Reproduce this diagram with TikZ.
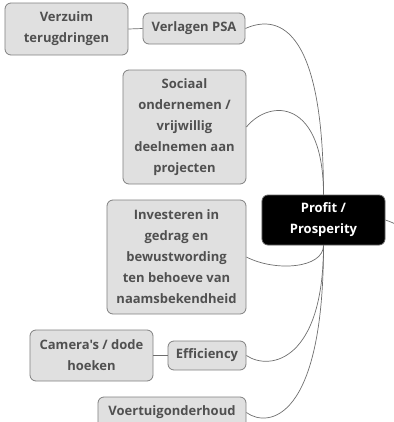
\documentclass[tikz,border=0pt]{standalone}
\usepackage{fontspec}
\newfontfamily\mapfont{Open Sans}
\usepackage{tikz}
\usetikzlibrary{calc, positioning}

\definecolor{boxfill}{HTML}{E0E0E0}
\definecolor{boxline}{HTML}{808080}
\definecolor{boxtext}{HTML}{505050}
\definecolor{edgecol}{HTML}{6E6E6E}

\tikzset{
  topic/.style={draw=boxline, fill=boxfill, text=boxtext, rounded corners=6bp,
    line width=.8bp, align=center, inner sep=0pt,
    font=\mapfont\bfseries\fontsize{13bp}{21bp}\selectfont},
  central/.style={topic, draw=black!60, fill=black, text=white},
  branch/.style={draw=edgecol, line width=.7bp}
}

\begin{document}
\begin{tikzpicture}[x=1bp,y=-1bp]
\useasboundingbox (0,0) rectangle (394,422);
\clip (0,0) rectangle (394,422);
  % Node: central
  \node[central, minimum width=123bp, minimum height=50bp] (profit) at (323.5,220) {Profit /\\Prosperity};
  % Node: left side
  \node[topic, minimum width=102bp, minimum height=31bp] (psa) at (194,28.5) {Verlagen PSA};
  \node[topic, minimum width=123bp, minimum height=52bp] (verzuim) at (66.5,29) {Verzuim\\terugdringen};
  \node[topic, minimum width=123bp, minimum height=114bp] (sociaal) at (184.5,127) {Sociaal\\ondernemen /\\vrijwillig\\deelnemen aan\\projecten};
  \node[topic, minimum width=139bp, minimum height=114bp] (invest) at (176.5,257) {Investeren in\\gedrag en\\bewustwording\\ten behoeve van\\naamsbekendheid};
  \node[topic, minimum width=78bp, minimum height=29bp] (effic) at (207,355.5) {Efficiency};
  \node[topic, minimum width=123bp, minimum height=51bp] (camera) at (91.5,355.5) {Camera's / dode\\hoeken};
  \node[topic, minimum width=148bp, minimum height=31bp] (voertuig) at (172,412.5) {Voertuigonderhoud};
  \coordinate (outer) at (430,240);
%%
  % Edge: profit -- psa
  \draw[branch] (profit.north) .. controls +(0,-175) and +(29,-13) .. (psa.east);
  % Edge: profit -- sociaal
  \draw[branch] (profit.north) .. controls +(0,-95) and +(24,-29) .. (sociaal.east);
  % Edge: profit -- invest
  \draw[branch] (profit.south) .. controls +(0,23) and +(29,15) .. (invest.east);
  % Edge: profit -- effic
  \draw[branch] (profit.south) .. controls +(0,115) and +(24,16) .. (effic.east);
  % Edge: profit -- voertuig
  \draw[branch] (profit.south) .. controls +(0,175) and +(22,16) .. (voertuig.east);
  % Edge: profit -- outer
  \draw[branch] (profit.east) .. controls +(10,3) and +(-20,-8) .. (outer);
  % Edge: psa -- verzuim
  \draw[branch] (psa.west) -- (verzuim.east);
  % Edge: effic -- camera
  \draw[branch] (effic.west) -- (camera.east);
%
\end{tikzpicture}
\end{document}
